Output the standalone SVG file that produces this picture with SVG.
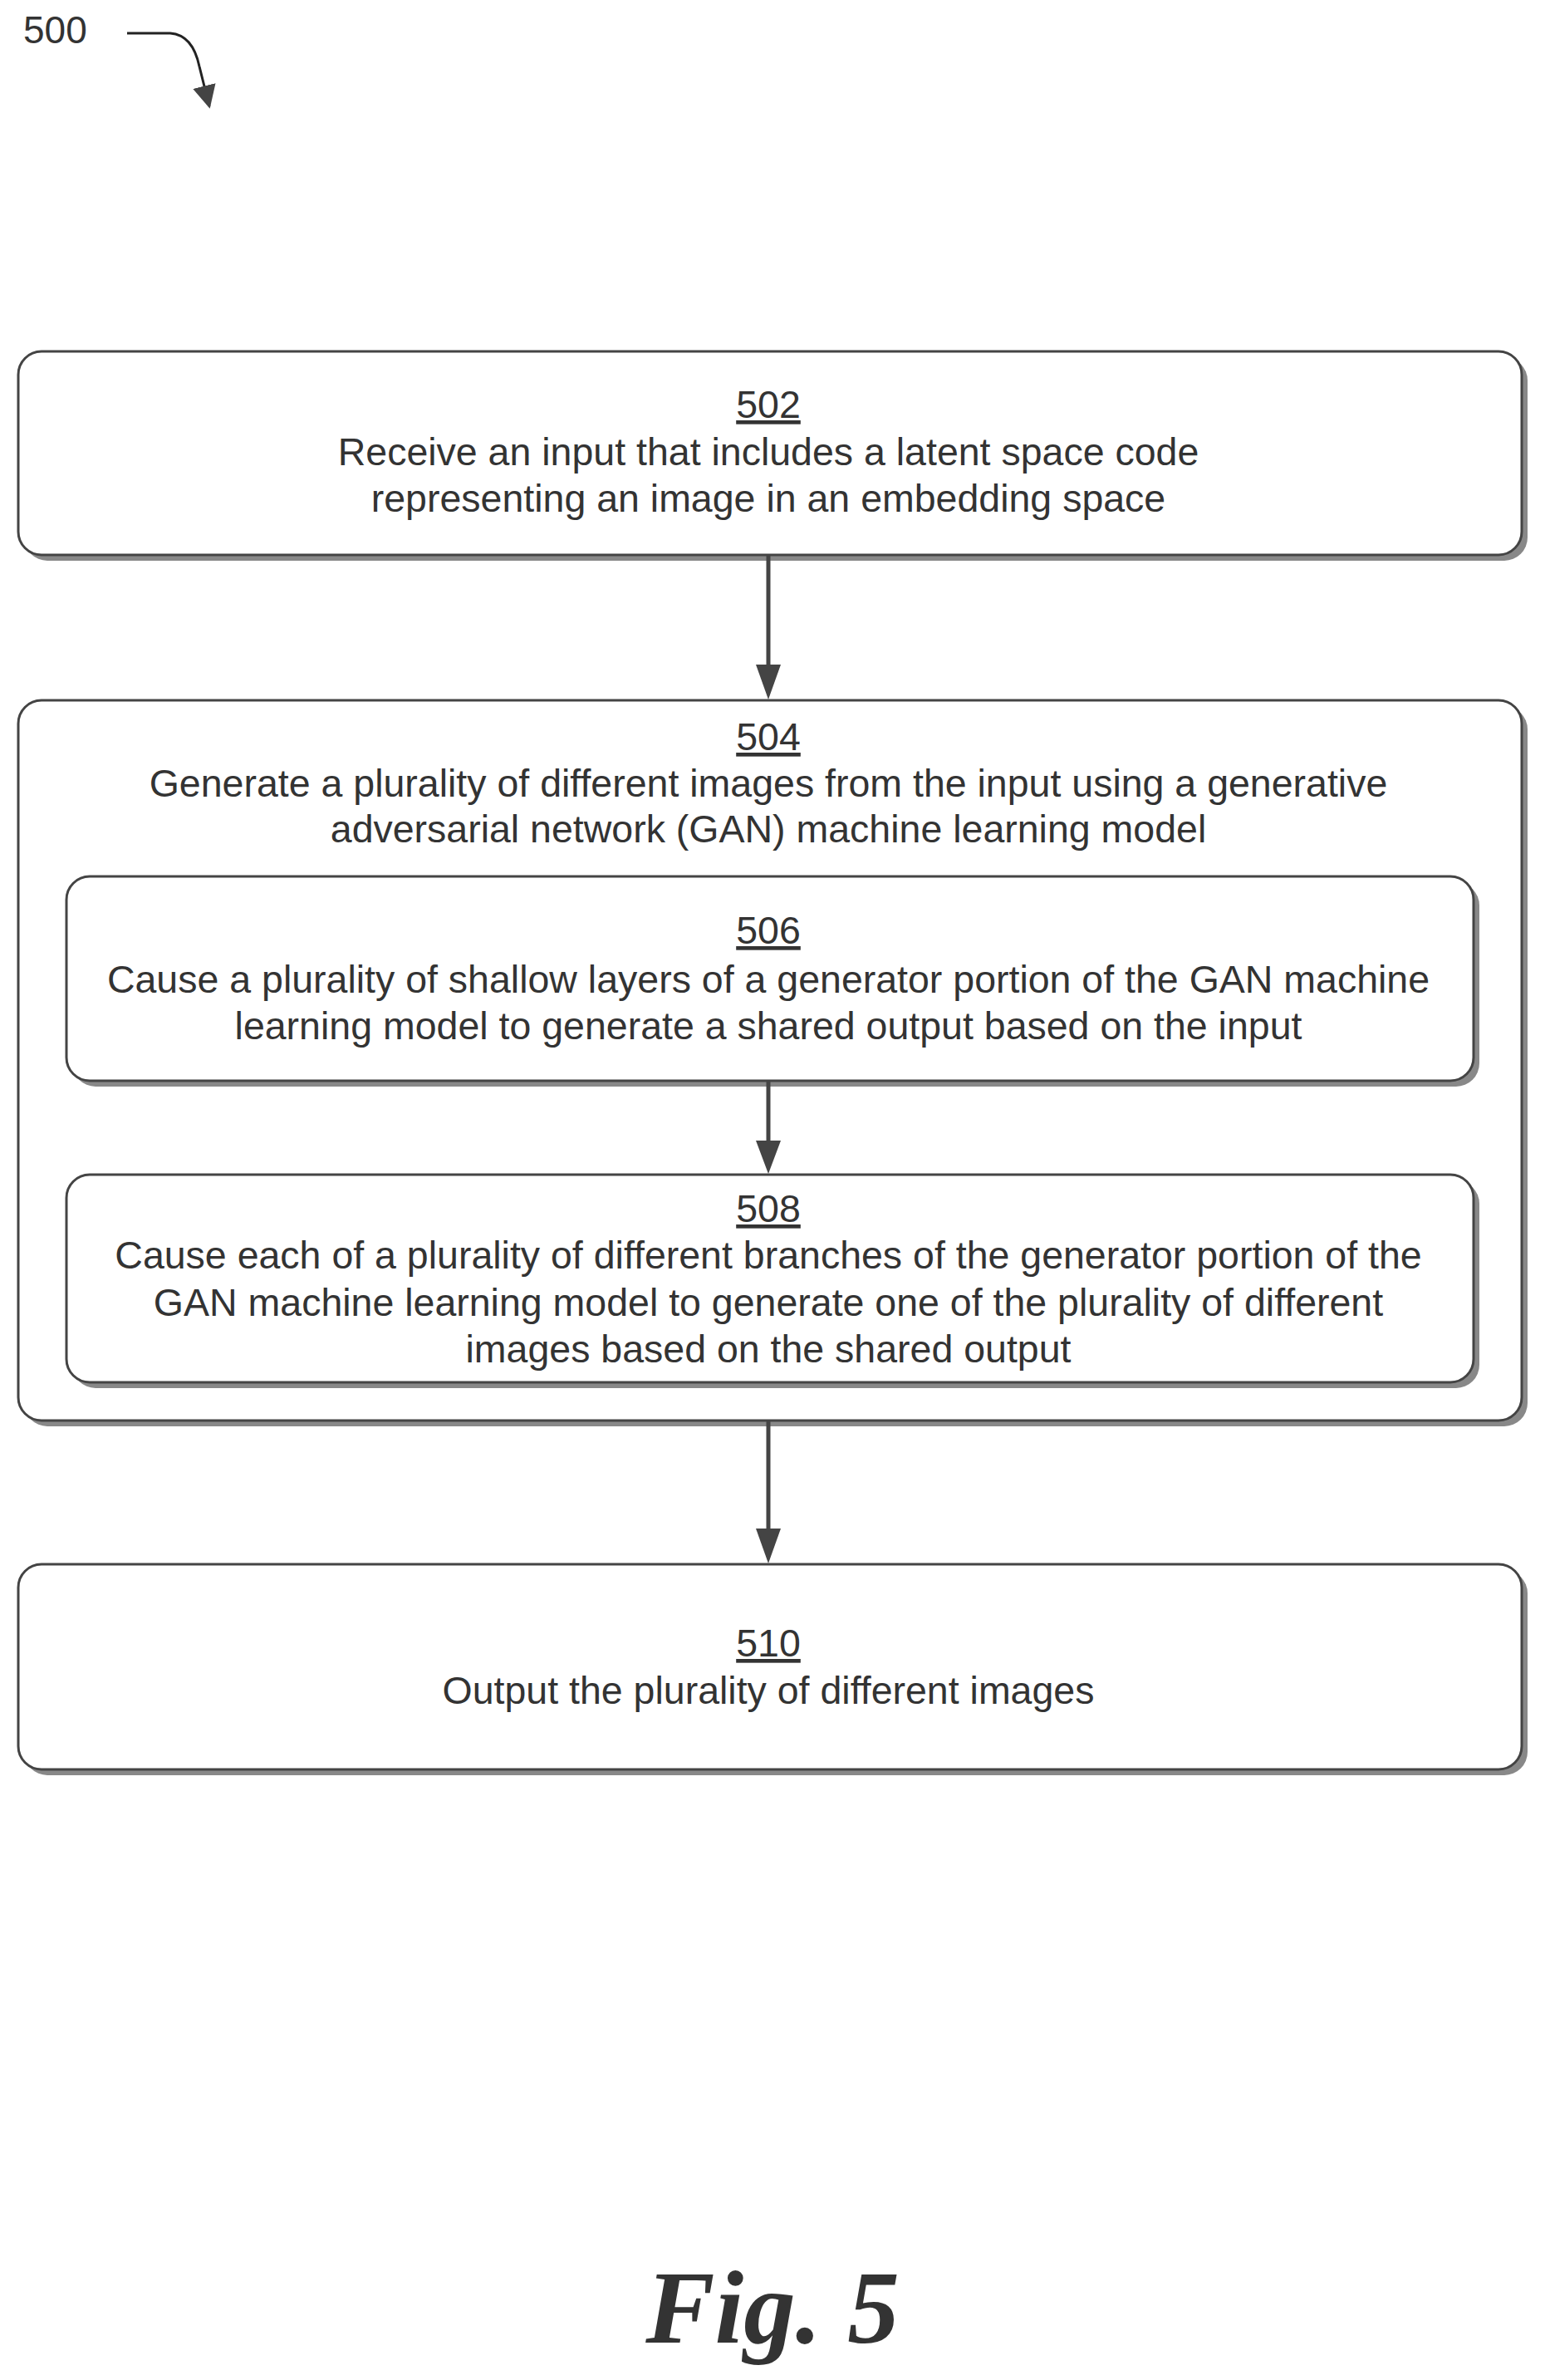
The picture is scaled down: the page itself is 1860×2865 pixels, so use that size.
<svg xmlns="http://www.w3.org/2000/svg" width="1860" height="2865" viewBox="0 0 1860 2865">
<style>
.box{fill:#fff;stroke:#444;stroke-width:3}
.sh{fill:#888}
.t{font-family:"Liberation Sans",Arial,sans-serif;font-size:46.5px;fill:#333;text-anchor:middle}
.n{text-decoration:underline}
.c{stroke:#444;stroke-width:5;fill:none}
</style>
<defs>
<marker id="ah2" viewBox="0 0 10 10" refX="9" refY="5" markerWidth="28" markerHeight="28" orient="auto" markerUnits="userSpaceOnUse"><path d="M0,0 L10,5 L0,10 z" fill="#444"/></marker>
</defs>
<g id="label500">
<text x="28" y="52" font-family="Liberation Sans,sans-serif" font-size="46" fill="#333">500</text>
<path d="M153,40 L205,40 Q232,42 240,80 L252,128" stroke="#222" stroke-width="3" fill="none" marker-end="url(#ah2)"/>
</g>
<g id="n502">
<rect class="sh" x="29" y="430" width="1810" height="245" rx="28"/>
<rect class="box" x="22" y="423" width="1810" height="245" rx="28"/>
<text class="t n" x="925" y="503">502</text>
<text class="t" x="925" y="560">Receive an input that includes a latent space code</text>
<text class="t" x="925" y="616">representing an image in an embedding space</text>
</g>
<g id="n504">
<rect class="sh" x="29" y="850" width="1810" height="867" rx="28"/>
<rect class="box" x="22" y="843" width="1810" height="867" rx="28"/>
<text class="t n" x="925" y="903">504</text>
<text class="t" x="925" y="959">Generate a plurality of different images from the input using a generative</text>
<text class="t" x="925" y="1014">adversarial network (GAN) machine learning model</text>
</g>
<g id="n506">
<rect class="sh" x="87" y="1062" width="1694" height="246" rx="28"/>
<rect class="box" x="80" y="1055" width="1694" height="246" rx="28"/>
<text class="t n" x="925" y="1136">506</text>
<text class="t" x="925" y="1195">Cause a plurality of shallow layers of a generator portion of the GAN machine</text>
<text class="t" x="925" y="1251">learning model to generate a shared output based on the input</text>
</g>
<g id="n508">
<rect class="sh" x="87" y="1421" width="1694" height="250" rx="28"/>
<rect class="box" x="80" y="1414" width="1694" height="250" rx="28"/>
<text class="t n" x="925" y="1471">508</text>
<text class="t" x="925" y="1527">Cause each of a plurality of different branches of the generator portion of the</text>
<text class="t" x="925" y="1584">GAN machine learning model to generate one of the plurality of different</text>
<text class="t" x="925" y="1640">images based on the shared output</text>
</g>
<g id="n510">
<rect class="sh" x="29" y="1890" width="1810" height="247" rx="28"/>
<rect class="box" x="22" y="1883" width="1810" height="247" rx="28"/>
<text class="t n" x="925" y="1994">510</text>
<text class="t" x="925" y="2051">Output the plurality of different images</text>
</g>
<g id="connectors">
<line class="c" x1="925" y1="668" x2="925" y2="800"/>
<path d="M910,800 L940,800 L925,842 z" fill="#444"/>
<line class="c" x1="925" y1="1301" x2="925" y2="1375"/>
<path d="M910,1373 L940,1373 L925,1413 z" fill="#444"/>
<line class="c" x1="925" y1="1710" x2="925" y2="1842"/>
<path d="M910,1840 L940,1840 L925,1882 z" fill="#444"/>
</g>
<text x="930" y="2820" text-anchor="middle" font-family="Liberation Serif,serif" font-style="italic" font-weight="bold" font-size="125" fill="#333">Fig. 5</text>
</svg>
